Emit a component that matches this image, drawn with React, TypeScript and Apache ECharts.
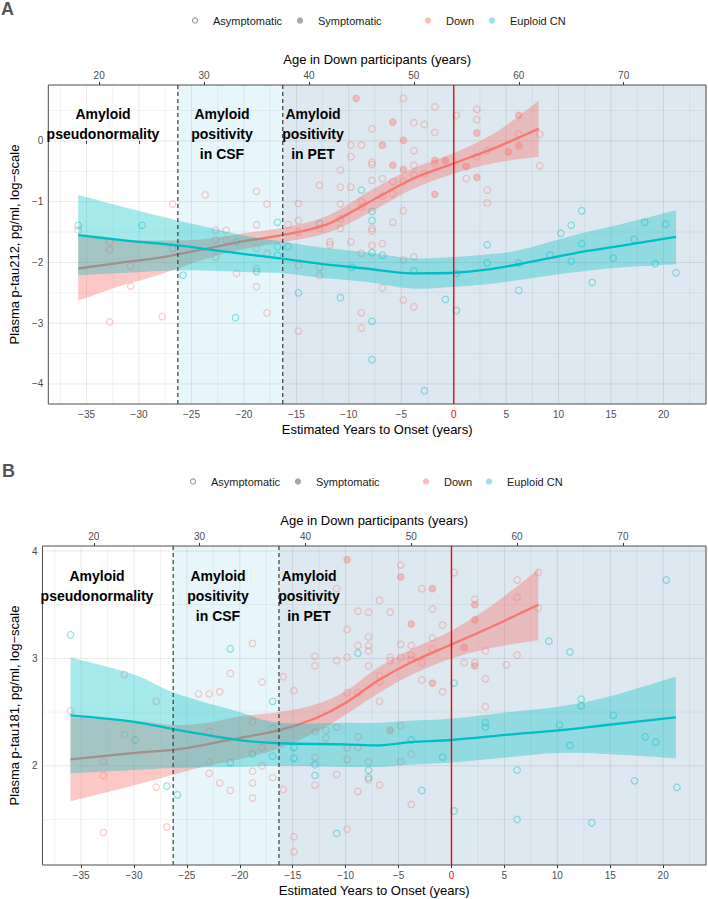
import React, { useEffect, useRef } from "react";
import * as echarts from "echarts";

// ---------- axes ----------
const ONSET_AGE = 53.8;
const X_MIN = -38.65;
const X_MAX = 24.05;
const xMajor = [-35, -30, -25, -20, -15, -10, -5, 0, 5, 10, 15, 20];
const xMinor = [-37.5, -32.5, -27.5, -22.5, -17.5, -12.5, -7.5, -2.5, 2.5, 7.5, 12.5, 17.5, 22.5];
const ageTicks = [20, 30, 40, 50, 60, 70];
const stageBreaks = [-26.3, -16.3];
const onsetYear = 0;

const yRangeA = [-4.33, 0.92];
const yMajorA = [-4, -3, -2, -1, 0];
const yMinorA = [-3.5, -2.5, -1.5, -0.5, 0.5];
const yRangeB = [1.076, 4.047];
const yMajorB = [2, 3, 4];
const yMinorB = [1.5, 2.5, 3.5];

// ---------- panel A: p-tau212 ----------
const downAsymA = [
  [-35.8, -1.47], [-32.8, -1.66], [-32.8, -1.79], [-32.8, -2.98], [-30.8, -2.06], [-30.8, -2.39], [-27.8, -2.89],
  [-26.8, -1.04], [-23.7, -0.89], [-22.7, -1.47], [-22.7, -1.63], [-22.7, -1.91], [-21.7, -1.47], [-21.7, -1.63],
  [-20.7, -2.18], [-18.8, -0.83], [-18.8, -1.38], [-18.8, -1.77], [-18.8, -2.1], [-18.8, -2.4], [-17.8, -1.04],
  [-17.8, -1.85], [-17.8, -2.83], [-15.8, -1.38], [-14.8, -1.03], [-14.8, -1.31], [-14.8, -1.5], [-14.8, -2.05],
  [-14.8, -3.13], [-12.8, -0.73], [-12.8, -1.44], [-12.8, -2.08], [-12.8, -2.21], [-11.8, -1.66], [-11.8, -1.71],
  [-10.8, -0.48], [-10.8, -0.76], [-10.8, -1.04], [-10.8, -1.28], [-10.8, -1.44], [-9.8, -0.07], [-9.8, -0.26],
  [-9.8, -0.76], [-9.8, -1.66], [-8.8, -0.07], [-8.8, -1.0], [-8.8, -1.09], [-8.8, -1.85], [-8.8, -2.83],
  [-8.8, -3.08], [-7.8, 0.2], [-7.8, -0.35], [-7.8, -0.39], [-7.8, -0.65], [-7.8, -1.44], [-7.8, -1.48],
  [-7.8, -1.72], [-6.8, -0.62], [-6.8, -0.91], [-6.8, -1.69], [-6.8, -2.42], [-5.8, -0.67], [-5.8, -0.87],
  [-5.8, -1.34], [-4.8, 0.7], [-4.8, -0.67], [-4.8, -1.15], [-4.8, -1.96], [-4.8, -2.62], [-3.8, 0.3],
  [-3.8, -0.16], [-3.8, -0.4], [-3.8, -0.56], [-3.8, -1.91], [-3.8, -2.73], [-2.8, 0.27], [-2.8, -0.54],
  [-1.8, 0.56], [-1.8, 0.14], [-1.8, -0.37], [0.25, 0.42], [1.2, -0.62], [2.2, 0.52], [2.2, 0.35], [2.2, -0.26],
  [3.2, -0.16], [3.2, -0.81], [3.2, -1.02], [6.2, 0.11], [8.2, 0.11], [8.2, -0.41],
];
const downSymA = [
  [-9.3, 0.7], [-6.8, -0.07], [-5.8, 0.31], [-5.8, -0.4], [-4.8, 0.01], [-4.8, -0.47], [-1.8, -0.32],
  [-1.8, -0.88], [-0.8, -0.32], [1.2, -0.42], [2.2, 0.13], [2.2, -0.6], [5.2, -0.18], [6.2, 0.42], [6.2, -0.08],
];
const euploidA = [
  [-35.8, -1.39], [-29.7, -1.39], [-26.8, -1.77], [-25.8, -2.21], [-20.7, -1.66], [-20.8, -2.91], [-18.8, -2.15],
  [-16.8, -1.34], [-16.8, -1.74], [-16.8, -1.88], [-15.8, -1.74], [-14.8, -2.5], [-12.8, -1.36], [-10.8, -2.58],
  [-8.8, -0.81], [-9.7, -2.08], [-7.8, -1.16], [-7.8, -1.31], [-7.8, -1.84], [-6.8, -1.88], [-7.8, -2.97],
  [-7.8, -3.6], [-3.8, -2.14], [-2.8, -4.11], [-0.8, -2.61], [0.25, -2.18], [0.25, -2.79], [3.2, -1.71],
  [3.2, -2.01], [6.2, -2.01], [6.2, -2.46], [9.2, -1.88], [10.2, -1.52], [11.2, -1.39], [11.2, -1.98],
  [12.2, -1.15], [12.2, -1.69], [13.2, -2.33], [15.2, -1.93], [17.2, -1.62], [18.2, -1.34], [19.2, -2.02],
  [20.2, -1.37], [21.2, -2.17],
];
const fitDownXA = [-35.8, -32, -28, -24, -20, -16, -12, -8, -4, 0, 4, 8.1];
const fitDownA = [-2.1, -2.01, -1.92, -1.79, -1.65, -1.54, -1.37, -1.0, -0.63, -0.37, -0.11, 0.2];
const fitDownLoA = [-2.63, -2.4, -2.2, -1.96, -1.78, -1.66, -1.51, -1.18, -0.8, -0.54, -0.36, -0.26];
const fitDownHiA = [-1.57, -1.62, -1.64, -1.62, -1.52, -1.42, -1.23, -0.82, -0.46, -0.2, 0.14, 0.66];
const fitEuXA = [-35.8, -31.2, -26.3, -22.7, -19.6, -16.2, -12.8, -8.4, -4.0, 0, 3.1, 6.2, 11.5, 16.2, 21.2];
const fitEuA = [-1.55, -1.64, -1.72, -1.8, -1.87, -1.94, -2.02, -2.1, -2.18, -2.17, -2.12, -2.03, -1.85, -1.72, -1.58];
const fitEuLoA = [-2.21, -2.17, -2.13, -2.14, -2.16, -2.18, -2.25, -2.32, -2.43, -2.4, -2.36, -2.29, -2.16, -2.08, -2.03];
const fitEuHiA = [-0.89, -1.1, -1.31, -1.45, -1.57, -1.66, -1.75, -1.83, -1.93, -1.91, -1.87, -1.8, -1.55, -1.36, -1.14];

// ---------- panel B: p-tau181 ----------
const downAsymB = [
  [-36, 2.51], [-32.9, 2.04], [-32.9, 1.91], [-32.9, 1.38], [-30.9, 2.85], [-30.9, 2.29], [-27.9, 2.6], [-27.9, 1.8],
  [-26.9, 1.43], [-23.9, 2.67], [-22.9, 2.67], [-22.9, 2.32], [-22.9, 2.03], [-22.9, 1.93], [-21.9, 2.69],
  [-21.9, 1.84], [-20.9, 2.86], [-20.9, 1.77], [-18.8, 3.14], [-18.8, 2.41], [-18.8, 1.95], [-18.8, 1.84],
  [-18.8, 1.7], [-17.9, 2.78], [-17.9, 2.17], [-17.9, 2.0], [-16.9, 1.89], [-15.9, 2.83], [-15.9, 1.78],
  [-14.9, 2.7], [-14.9, 1.34], [-14.9, 1.2], [-12.9, 3.02], [-12.9, 2.93], [-12.9, 2.32], [-12.9, 2.08],
  [-12.9, 1.82], [-11.85, 2.33], [-11.85, 2.26], [-10.85, 3.65], [-10.85, 2.98], [-10.85, 2.36], [-10.85, 1.92],
  [-9.86, 3.27], [-9.86, 3.01], [-9.86, 2.68], [-9.86, 2.17], [-9.86, 2.06], [-9.86, 1.41], [-8.84, 3.44],
  [-8.84, 3.12], [-8.84, 2.68], [-8.84, 2.27], [-8.84, 2.17], [-8.84, 1.76], [-7.84, 3.43], [-7.84, 3.2],
  [-7.84, 3.12], [-7.84, 3.07], [-7.84, 2.93], [-7.84, 2.04], [-7.84, 1.87], [-6.8, 3.54], [-6.8, 2.84],
  [-6.8, 2.78], [-6.8, 2.6], [-6.8, 1.82], [-5.8, 3.43], [-5.8, 3.01], [-5.8, 2.98], [-4.8, 3.87], [-4.8, 3.13],
  [-4.8, 3.01], [-4.8, 2.37], [-4.8, 2.04], [-3.8, 3.12], [-3.8, 3.03], [-3.8, 2.99], [-3.8, 2.11], [-3.8, 1.64],
  [-2.8, 3.65], [-2.8, 2.96], [-2.8, 2.8], [-1.8, 3.46], [-1.8, 3.19], [-1.8, 3.09], [-0.84, 3.31], [-0.84, 2.69],
  [0.25, 3.8], [1.2, 2.96], [2.2, 3.55], [2.2, 2.96], [3.2, 3.07], [3.2, 2.81], [3.2, 2.55], [5.2, 2.94],
  [6.2, 3.73], [6.2, 3.57], [6.2, 3.03], [8.2, 3.8], [8.2, 3.47],
];
const downSymB = [
  [-9.86, 3.92], [-5.8, 2.33], [-4.8, 3.76], [-3.8, 3.32], [-1.8, 3.65], [-1.8, 2.77], [1.2, 3.1], [2.2, 3.5],
  [2.2, 3.36], [2.2, 2.93],
];
const euploidB = [
  [-36, 3.22], [-29.9, 2.24], [-26.9, 1.81], [-25.9, 1.73], [-20.9, 3.09], [-20.9, 2.03], [-18.8, 2.11],
  [-16.9, 2.6], [-16.9, 2.35], [-16.9, 2.09], [-14.9, 2.17], [-14.9, 2.07], [-12.9, 2.01], [-12.9, 1.91],
  [-10.85, 1.37], [-8.84, 3.05], [-7.84, 1.96], [-7.84, 1.89], [-3.8, 2.24], [-2.8, 1.77], [-0.84, 2.08],
  [0.25, 2.77], [0.25, 1.58], [3.2, 2.4], [3.2, 2.36], [6.2, 1.96], [6.2, 1.5], [9.2, 3.16], [10.2, 2.38],
  [11.2, 3.06], [11.2, 2.19], [12.25, 2.62], [12.25, 2.56], [13.25, 1.47], [15.3, 2.47], [17.3, 1.86],
  [18.3, 2.27], [19.3, 2.22], [20.3, 3.73], [21.3, 1.8],
];
const fitDownXB = [-36, -29.9, -26.2, -23.1, -20, -16.3, -12.9, -10.1, -7.0, -3.9, 0, 3.9, 8.2];
const fitDownB = [2.06, 2.12, 2.15, 2.2, 2.26, 2.33, 2.44, 2.58, 2.79, 2.96, 3.13, 3.3, 3.5];
const fitDownLoB = [1.67, 1.82, 1.92, 2.0, 2.06, 2.16, 2.31, 2.47, 2.67, 2.84, 3.0, 3.1, 3.17];
const fitDownHiB = [2.45, 2.42, 2.38, 2.4, 2.46, 2.5, 2.57, 2.69, 2.91, 3.08, 3.26, 3.5, 3.83];
const fitEuXB = [-36, -30, -26.2, -20, -16.3, -10.1, -7.0, -3.9, 0, 5.4, 10.1, 14.7, 21.2];
const fitEuB = [2.47, 2.41, 2.34, 2.24, 2.21, 2.2, 2.19, 2.22, 2.24, 2.29, 2.33, 2.38, 2.45];
const fitEuLoB = [1.93, 1.96, 1.98, 1.99, 2.0, 1.99, 1.99, 2.01, 2.03, 2.08, 2.12, 2.11, 2.07];
const fitEuHiB = [3.01, 2.85, 2.68, 2.5, 2.4, 2.4, 2.4, 2.42, 2.44, 2.5, 2.55, 2.64, 2.83];

// ---------- styles ----------
const FONT = '"Liberation Sans", Arial, Helvetica, sans-serif';
const DOWN = "#F8766D";
const EU = "#00BFC4";
const DOWN_PT = "rgba(248,118,109,0.45)";
const EU_PT = "rgba(0,191,196,0.5)";
const DOWN_BAND = "rgba(248,118,109,0.4)";
const EU_BAND = "rgba(0,191,196,0.35)";
const CSF_FILL = "#E7F6FA";
const PET_FILL = "#DDE8F0";
const GRID_LINE = "rgba(0,0,0,0.09)";
const TICK_COL = "#4D4D4D";
const ONSET_COL = "#FF0000";

const minusFmt = (v: number) => (v < 0 ? "\u2212" + Math.abs(v) : String(v));

function catmull(pts: number[][], n = 8) {
  const out: number[][] = [];
  for (let i = 0; i < pts.length - 1; i++) {
    const p0 = pts[Math.max(i - 1, 0)], p1 = pts[i], p2 = pts[i + 1], p3 = pts[Math.min(i + 2, pts.length - 1)];
    for (let k = 0; k < n; k++) {
      const t = k / n, t2 = t * t, t3 = t2 * t;
      const f = (j: number) =>
        0.5 * (2 * p1[j] + (-p0[j] + p2[j]) * t + (2 * p0[j] - 5 * p1[j] + 4 * p2[j] - p3[j]) * t2 +
          (-p0[j] + 3 * p1[j] - 3 * p2[j] + p3[j]) * t3);
      out.push([f(0), f(1)]);
    }
  }
  out.push(pts[pts.length - 1]);
  return out;
}

function buildPanel(gi: number, p: any) {
  const xi = gi * 2;
  const axisRef = { xAxisIndex: xi, yAxisIndex: gi };
  const [yMin, yMax] = p.yRange;
  const series: any[] = [];
  // stage shading
  series.push({
    type: "custom", ...axisRef, z: 1, silent: true,
    data: [[stageBreaks[0], stageBreaks[1], yMin, 0], [stageBreaks[1], X_MAX, yMin, 1]],
    encode: { x: [0, 1], y: 2 },
    renderItem: (params: any, api: any) => {
      const cs = params.coordSys;
      const a = api.coord([api.value(0), api.value(2)]);
      const b = api.coord([api.value(1), api.value(2)]);
      return {
        type: "rect",
        shape: { x: a[0], y: cs.y, width: b[0] - a[0], height: cs.height },
        style: { fill: api.value(3) === 0 ? CSF_FILL : PET_FILL },
      };
    },
  });
  // grid lines
  const vLines = (vals: number[], w: number) => ({
    type: "custom", ...axisRef, z: 2, silent: true,
    data: vals.map((v) => [v, yMin]), encode: { x: 0, y: 1 },
    renderItem: (params: any, api: any) => {
      const cs = params.coordSys;
      const c = api.coord([api.value(0), api.value(1)]);
      return { type: "line", shape: { x1: c[0], y1: cs.y, x2: c[0], y2: cs.y + cs.height }, style: { stroke: GRID_LINE, lineWidth: w } };
    },
  });
  const hLines = (vals: number[], w: number) => ({
    type: "custom", ...axisRef, z: 2, silent: true,
    data: vals.map((v) => [X_MIN, v]), encode: { x: 0, y: 1 },
    renderItem: (params: any, api: any) => {
      const cs = params.coordSys;
      const c = api.coord([api.value(0), api.value(1)]);
      return { type: "line", shape: { x1: cs.x, y1: c[1], x2: cs.x + cs.width, y2: c[1] }, style: { stroke: GRID_LINE, lineWidth: w } };
    },
  });
  series.push(vLines(xMajor, 1), vLines(xMinor, 0.6), hLines(p.yMajor, 1), hLines(p.yMinor, 0.6));
  // points
  series.push({
    type: "scatter", ...axisRef, z: 3, name: "Down asymptomatic", data: p.downAsym, symbol: "circle", symbolSize: 6.5,
    itemStyle: { color: "rgba(0,0,0,0)", borderColor: DOWN_PT, borderWidth: 1.3 },
  });
  series.push({
    type: "scatter", ...axisRef, z: 3, name: "Down symptomatic", data: p.downSym, symbol: "circle", symbolSize: 6.5,
    itemStyle: { color: DOWN_PT, borderColor: DOWN_PT, borderWidth: 1.3 },
  });
  series.push({
    type: "scatter", ...axisRef, z: 3, name: "Euploid CN", data: p.euploid, symbol: "circle", symbolSize: 6.5,
    itemStyle: { color: "rgba(0,0,0,0)", borderColor: EU_PT, borderWidth: 1.3 },
  });
  // ribbons and fits
  const ribbon = (xs: number[], lo: number[], hi: number[], fill: string, z: number) => ({
    type: "custom", ...axisRef, z, silent: true,
    data: xs.map((x, i) => [x, lo[i], hi[i]]), encode: { x: 0, y: [1, 2] },
    renderItem: (params: any, api: any) => {
      if (params.dataIndex !== 0) return null;
      const up = catmull(xs.map((x, i) => api.coord([x, hi[i]])));
      const dn = catmull(xs.map((x, i) => api.coord([x, lo[i]])));
      return { type: "polygon", shape: { points: up.concat(dn.reverse()) }, style: { fill } };
    },
  });
  const fit = (xs: number[], ys: number[], color: string, z: number, name: string) => ({
    type: "line", ...axisRef, z, name, data: xs.map((x, i) => [x, ys[i]]), smooth: 0.3,
    showSymbol: false, symbol: "none", lineStyle: { color, width: 2.3 },
  });
  series.push(ribbon(p.dX, p.dLo, p.dHi, DOWN_BAND, 4));
  series.push(fit(p.dX, p.dFit, DOWN, 5, "Down fit"));
  series.push(ribbon(p.eX, p.eLo, p.eHi, EU_BAND, 6));
  series.push(fit(p.eX, p.eFit, EU, 7, "Euploid fit"));
  // reference lines
  stageBreaks.forEach((b) => {
    series.push({
      type: "line", ...axisRef, z: 8, data: [[b, yMin], [b, yMax]], showSymbol: false, symbol: "none",
      lineStyle: { color: "#3A3A3A", width: 1.2, type: [4, 3] }, silent: true,
    });
  });
  series.push({
    type: "line", ...axisRef, z: 8, data: [[onsetYear, yMin], [onsetYear, yMax]], showSymbol: false, symbol: "none",
    color: ONSET_COL, lineStyle: { color: ONSET_COL, width: 1.4, opacity: 1 }, silent: true,
  });
  // frame
  series.push({
    type: "custom", ...axisRef, z: 9, silent: true, data: [[X_MIN, yMin]], encode: { x: 0, y: 1 },
    renderItem: (params: any) => {
      const cs = params.coordSys;
      return { type: "rect", shape: { x: cs.x, y: cs.y, width: cs.width, height: cs.height }, style: { fill: "none", stroke: "#4D4D4D", lineWidth: 1 } };
    },
  });

  const lbl = { fontSize: 10, fontFamily: FONT };
  const xAxes = [
    {
      gridIndex: gi, type: "value", position: "bottom", min: X_MIN, max: X_MAX,
      axisLine: { show: false }, splitLine: { show: false },
      axisTick: { show: true, customValues: xMajor, length: 3, lineStyle: { color: "#333" } },
      axisLabel: { ...lbl, customValues: xMajor, margin: 5, formatter: (v: number) => minusFmt(v),
        color: (v: any) => (Number(v) === onsetYear ? ONSET_COL : TICK_COL) },
      name: "Estimated Years to Onset (years)", nameLocation: "middle", nameGap: 19,
      nameTextStyle: { fontSize: 13, color: "#000", fontFamily: FONT },
    },
    {
      gridIndex: gi, type: "value", position: "top", min: X_MIN + ONSET_AGE, max: X_MAX + ONSET_AGE,
      axisLine: { show: false }, splitLine: { show: false },
      axisTick: { show: true, customValues: ageTicks, length: 3, lineStyle: { color: "#333" } },
      axisLabel: { ...lbl, customValues: ageTicks, margin: 5, color: TICK_COL },
      name: "Age in Down participants (years)", nameLocation: "middle", nameGap: 19,
      nameTextStyle: { fontSize: 13, color: "#000", fontFamily: FONT },
    },
  ];
  const yAxis = {
    gridIndex: gi, type: "value", min: yMin, max: yMax,
    axisLine: { show: false }, splitLine: { show: false },
    axisTick: { show: true, customValues: p.yMajor, length: 3, lineStyle: { color: "#333" } },
    axisLabel: { ...lbl, customValues: p.yMajor, margin: 5, color: TICK_COL, formatter: (v: number) => minusFmt(v) },
    name: p.yName, nameLocation: "middle", nameGap: p.yNameGap,
    nameTextStyle: { fontSize: 13, color: "#000", fontFamily: FONT },
  };
  return { series, xAxes, yAxis };
}

function legendGraphics(y: number, xs: number[]) {
  const items = [
    { label: "Asymptomatic", fill: "none", stroke: "#9E9E9E" },
    { label: "Symptomatic", fill: "#A8A8A8", stroke: "#A8A8A8" },
    { label: "Down", fill: "#F9BEBA", stroke: "#F9BEBA" },
    { label: "Euploid CN", fill: "#9FE2E4", stroke: "#9FE2E4" },
  ];
  const out: any[] = [];
  items.forEach((it, i) => {
    out.push({ type: "circle", shape: { cx: xs[i], cy: y, r: 2.6 }, style: { fill: it.fill, stroke: it.stroke, lineWidth: 1.2 } });
    out.push({
      type: "text", x: xs[i] + 18, y,
      style: { text: it.label, fontSize: 11, fontFamily: FONT, fill: "#1A1A1A", verticalAlign: "middle", align: "left" },
    });
  });
  return out;
}

function stageLabels(y: number, xs: number[]) {
  const texts = ["Amyloid\npseudonormality", "Amyloid\npositivity\nin CSF", "Amyloid\npositivity\nin PET"];
  return texts.map((t, i) => ({
    type: "text", x: xs[i], y, z: 100,
    style: { text: t, fontSize: 14, fontWeight: "bold", fontFamily: FONT, fill: "#000", align: "center", verticalAlign: "top", lineHeight: 20 },
  }));
}

export default function App() {
  const ref = useRef<HTMLDivElement>(null);
  useEffect(() => {
    if (!ref.current) return;
    const chart = echarts.init(ref.current, undefined, { renderer: "svg" });
    const A = buildPanel(0, {
      yRange: yRangeA, yMajor: yMajorA, yMinor: yMinorA,
      downAsym: downAsymA, downSym: downSymA, euploid: euploidA,
      dX: fitDownXA, dFit: fitDownA, dLo: fitDownLoA, dHi: fitDownHiA,
      eX: fitEuXA, eFit: fitEuA, eLo: fitEuLoA, eHi: fitEuHiA,
      yName: "Plasma p-tau212, pg/ml, log\u2212scale", yNameGap: 23,
    });
    const B = buildPanel(1, {
      yRange: yRangeB, yMajor: yMajorB, yMinor: yMinorB,
      downAsym: downAsymB, downSym: downSymB, euploid: euploidB,
      dX: fitDownXB, dFit: fitDownB, dLo: fitDownLoB, dHi: fitDownHiB,
      eX: fitEuXB, eFit: fitEuB, eLo: fitEuLoB, eHi: fitEuHiB,
      yName: "Plasma p-tau181, pg/ml, log\u2212scale", yNameGap: 18,
    });
    chart.setOption({
      animation: false,
      backgroundColor: "#fff",
      textStyle: { fontFamily: FONT },
      grid: [
        { left: 37, top: 85, width: 669, height: 319, containLabel: false },
        { left: 32, top: 546, width: 674, height: 319, containLabel: false },
      ],
      xAxis: [...A.xAxes, ...B.xAxes],
      yAxis: [A.yAxis, B.yAxis],
      series: [...A.series, ...B.series],
      graphic: [
        { type: "text", x: 1, y: 9, style: { text: "A", fontSize: 18, fontWeight: "bold", fontFamily: FONT, fill: "#555", verticalAlign: "middle" } },
        { type: "text", x: 2, y: 471, style: { text: "B", fontSize: 18, fontWeight: "bold", fontFamily: FONT, fill: "#555", verticalAlign: "middle" } },
        ...legendGraphics(20.5, [195, 300, 428, 492]),
        ...legendGraphics(481.5, [193, 298, 426, 489]),
        ...stageLabels(104, [103, 222, 313]),
        ...stageLabels(566, [97, 218, 309]),
      ],
    });
    return () => chart.dispose();
  }, []);
  return <div ref={ref} style={{ position: "fixed", left: 0, top: 0, width: 708, height: 899 }} />;
}
